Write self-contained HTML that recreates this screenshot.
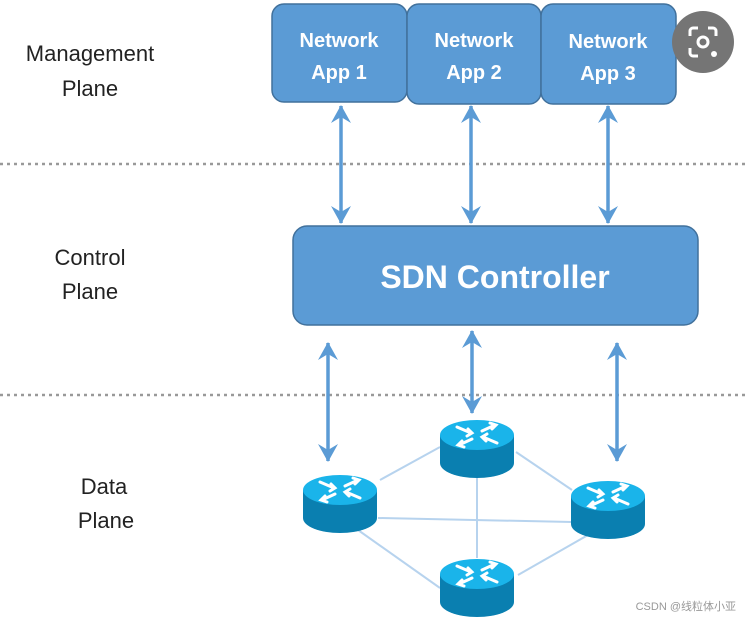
<!DOCTYPE html>
<html><head><meta charset="utf-8"><style>
html,body{margin:0;padding:0;background:#fff;}
svg{display:block;}
</style></head><body>
<svg width="746" height="618" viewBox="0 0 746 618" xmlns="http://www.w3.org/2000/svg">
<defs>
<marker id="ah" viewBox="0 0 18 20" markerWidth="18" markerHeight="20" refX="17" refY="10" orient="auto-start-reverse" markerUnits="userSpaceOnUse">
<path d="M0,0 L18,10 L0,20 L6,10 Z" fill="#5b9bd5"/>
</marker>
<g id="rt">
<path d="M-37,0 L-37,28 A37,15 0 0 0 37,28 L37,0 Z" fill="#0a7fb0"/>
<ellipse cx="0" cy="0" rx="37" ry="15" fill="#1ab4ea"/>
<g stroke="#fff" stroke-width="3" fill="none" stroke-linecap="round">
<path d="M-20,-8 L-6,-2"/><path d="M-9,-6 L-5,-2 L-10,1"/>
<path d="M20,8 L6,2"/><path d="M9,6 L5,2 L10,-1"/>
<path d="M5,-4 L18,-10"/><path d="M13,-12 L19,-10 L15,-6"/>
<path d="M-5,4 L-18,10"/><path d="M-13,12 L-19,10 L-15,6"/>
</g>
</g>
</defs>
<g font-family="'Liberation Sans',sans-serif" font-size="22" fill="#222" text-anchor="middle">
<text x="90" y="61">Management</text><text x="90" y="96">Plane</text>
<text x="90" y="265">Control</text><text x="90" y="299">Plane</text>
<text x="104" y="494">Data</text><text x="106" y="528">Plane</text>
</g>
<g stroke="#999" stroke-width="2.5" stroke-dasharray="3 4">
<line x1="0" y1="164" x2="746" y2="164"/>
<line x1="0" y1="395" x2="746" y2="395"/>
</g>
<g fill="#5b9bd5" stroke="#41719c" stroke-width="1.5">
<rect x="272" y="4" width="135" height="98" rx="12"/>
<rect x="407" y="4" width="134" height="100" rx="12"/>
<rect x="541" y="4" width="135" height="100" rx="12"/>
<rect x="293" y="226" width="405" height="99" rx="14"/>
</g>
<g font-family="'Liberation Sans',sans-serif" font-weight="bold" font-size="20" fill="#fff" text-anchor="middle">
<text x="339" y="47">Network</text><text x="339" y="79">App 1</text>
<text x="474" y="47">Network</text><text x="474" y="79">App 2</text>
<text x="608" y="48">Network</text><text x="608" y="80">App 3</text>
<text x="495" y="288" font-size="32">SDN Controller</text>
</g>
<circle cx="703" cy="42" r="31" fill="#757575"/>
<g stroke="#fff" stroke-width="3" fill="none">
<path d="M690,36 v-5 a3,3 0 0 1 3,-3 h5"/><path d="M708,28 h5 a3,3 0 0 1 3,3 v5"/>
<path d="M690,48 v5 a3,3 0 0 0 3,3 h5"/>
<circle cx="703" cy="42" r="5"/>
</g>
<circle cx="714" cy="54" r="3" fill="#fff"/>
<g stroke="#5b9bd5" stroke-width="3.5" marker-start="url(#ah)" marker-end="url(#ah)">
<line x1="341" y1="106" x2="341" y2="223"/>
<line x1="471" y1="106" x2="471" y2="223"/>
<line x1="608" y1="106" x2="608" y2="223"/>
<line x1="472" y1="331" x2="472" y2="413"/>
<line x1="328" y1="343" x2="328" y2="461"/>
<line x1="617" y1="343" x2="617" y2="461"/>
</g>
<g stroke="#b7d3ee" stroke-width="2">
<line x1="380" y1="480" x2="440" y2="447"/>
<line x1="516" y1="452" x2="572" y2="490"/>
<line x1="378" y1="518" x2="572" y2="522"/>
<line x1="477" y1="478" x2="477" y2="558"/>
<line x1="358" y1="530" x2="440" y2="588"/>
<line x1="588" y1="535" x2="518" y2="575"/>
</g>
<use href="#rt" x="477" y="435"/>
<use href="#rt" x="340" y="490"/>
<use href="#rt" x="608" y="496"/>
<use href="#rt" x="477" y="574"/>
<text x="736" y="610" text-anchor="end" font-family="'Liberation Sans','Noto Sans CJK SC',sans-serif" font-size="11" fill="#999">CSDN @线粒体小亚</text>
</svg>
</body></html>
